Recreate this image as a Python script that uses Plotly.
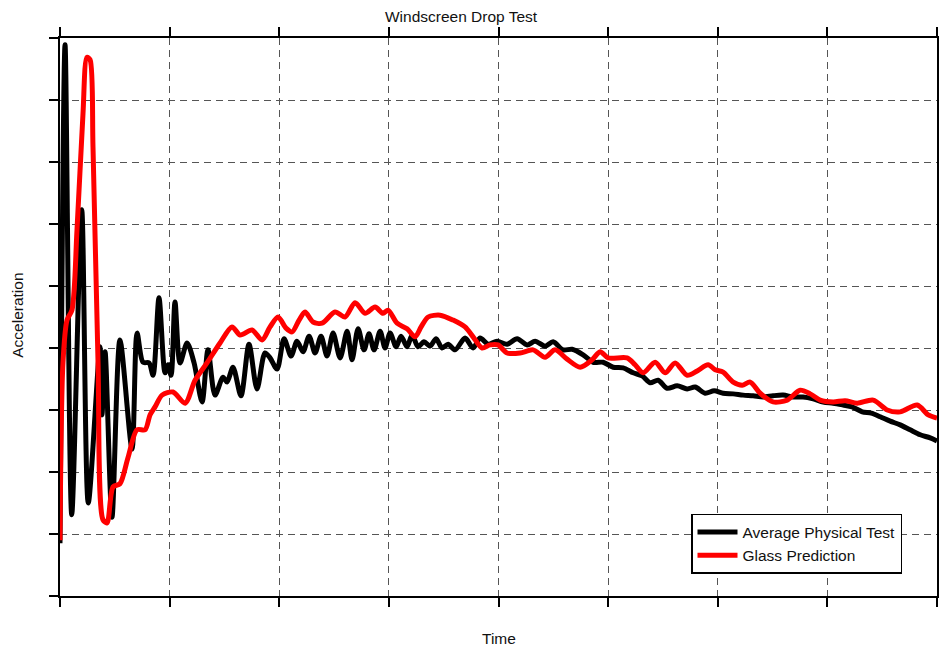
import plotly.graph_objects as go

# Time axis (arbitrary units, 8 grid divisions of 10)
physical_time = [0.0, 0.46, 1.07, 1.98, 2.58, 3.65, 3.83, 4.11, 4.74, 5.47, 6.57, 7.03, 7.57, 8.12, 8.49,
                 9.03, 9.58, 9.85, 10.13, 10.49, 10.95, 11.59, 12.23, 12.96, 13.50, 14.14, 14.87, 15.24,
                 15.78, 16.51, 17.24, 17.97, 18.70, 19.16, 19.80, 20.44, 21.08, 21.62, 22.17, 22.72, 23.27,
                 23.81, 24.36, 24.91, 25.55, 26.19, 26.64, 27.19, 27.74, 28.19, 28.65, 29.20, 29.65, 30.11,
                 30.66, 31.11, 31.66, 32.12, 32.66, 33.21, 33.76, 34.31, 34.85, 35.40, 36.04, 36.95, 37.68,
                 38.32, 39.05, 39.87, 40.78, 41.70, 42.61, 43.34, 44.25, 44.98, 45.89, 46.72, 47.72, 48.63,
                 49.54, 50.46, 51.37, 52.28, 53.10, 53.83, 54.56, 55.38, 56.30, 57.21, 57.94, 58.85, 59.67,
                 60.49, 61.41, 62.32, 63.23, 64.14, 65.05, 65.97, 66.88, 67.79, 68.70, 69.62, 70.53, 71.44,
                 72.26, 73.18, 74.00, 74.82, 75.73, 76.64, 77.55, 78.47, 79.38, 80.0]
physical_accel = [0.85, 8.89, 1.31, 6.23, 1.50, 4.02, 2.92, 3.94, 1.27, 4.13, 2.37, 4.24, 3.77, 3.76, 3.56,
                  4.81, 3.60, 3.73, 3.56, 4.74, 3.76, 4.08, 3.76, 3.13, 3.97, 3.24, 3.53, 3.45,
                  3.69, 3.23, 4.06, 3.34, 3.92, 3.84, 3.66, 4.15, 3.87, 4.11, 3.94, 4.19, 3.92,
                  4.19, 3.87, 4.24, 3.84, 4.27, 3.81, 4.31, 3.97, 4.23, 3.97, 4.27, 4.00, 4.24,
                  4.02, 4.19, 4.02, 4.21, 4.02, 4.10, 4.03, 4.15, 4.00, 4.06, 3.97, 4.16, 4.00,
                  4.16, 4.06, 4.11, 4.06, 4.15, 4.05, 4.11, 4.03, 4.10, 3.97, 3.98, 3.89, 3.77,
                  3.77, 3.69, 3.68, 3.60, 3.55, 3.44, 3.48, 3.35, 3.39, 3.34, 3.37, 3.27, 3.31,
                  3.27, 3.26, 3.24, 3.23, 3.21, 3.23, 3.24, 3.21, 3.21, 3.18, 3.13, 3.11, 3.08,
                  3.05, 2.97, 2.95, 2.89, 2.82, 2.76, 2.68, 2.60, 2.55, 2.50]

glass_time = [0.0, 0.27, 0.64, 1.09, 1.55, 2.10, 2.46, 2.74, 3.01, 3.47, 3.92, 4.29, 4.84, 5.47, 6.20,
              7.03, 7.76, 8.21, 8.67, 9.31, 10.31, 11.41, 12.32, 13.41, 14.60, 15.69, 16.42, 17.52,
              18.43, 19.16, 19.89, 20.62, 21.17, 21.81, 22.35, 23.08, 23.91, 25.09, 26.00, 26.92, 27.83,
              28.74, 29.47, 29.93, 30.75, 31.66, 32.39, 32.94, 33.58, 34.67, 35.86, 36.95, 37.68, 38.50,
              39.23, 39.96, 40.78, 41.97, 43.16, 44.25, 45.16, 46.26, 47.45, 48.54, 49.27, 50.00, 51.73,
              52.46, 53.19, 54.29, 55.20, 56.11, 57.21, 58.12, 59.12, 59.76, 60.49, 61.41, 62.23, 62.96,
              63.87, 65.05, 66.33, 67.52, 68.43, 69.34, 70.53, 71.62, 72.72, 74.18, 75.46, 76.64, 78.19,
              79.20, 80.0]
glass_accel = [0.90, 3.76, 4.45, 4.61, 5.90, 7.79, 8.69, 8.65, 7.24, 3.76, 1.23, 1.18, 1.76, 1.81, 2.23,
               2.68, 2.68, 2.92, 3.05, 3.24, 3.29, 3.11, 3.48, 3.76, 4.08, 4.34, 4.21, 4.29,
               4.13, 4.34, 4.50, 4.32, 4.26, 4.45, 4.58, 4.42, 4.40, 4.58, 4.50, 4.73, 4.56,
               4.66, 4.56, 4.61, 4.40, 4.31, 4.18, 4.34, 4.50, 4.53, 4.45, 4.34, 4.18, 4.00,
               4.05, 4.05, 3.92, 3.92, 3.97, 3.85, 3.97, 3.82, 3.69, 3.81, 3.94, 3.84, 3.84,
               3.73, 3.60, 3.77, 3.60, 3.76, 3.56, 3.63, 3.73, 3.65, 3.61, 3.45, 3.40, 3.45,
               3.27, 3.13, 3.16, 3.32, 3.26, 3.16, 3.13, 3.15, 3.11, 3.16, 3.00, 2.97, 3.08,
               2.92, 2.87]

series_names = ["Average Physical Test", "Glass Prediction"]
series_colors = ["#000000", "#ff0000"]

FONT = "Arial, Liberation Sans, sans-serif"
FS = 15.5

fig = go.Figure()
for name, xs, ys, col in zip(series_names, [physical_time, glass_time], [physical_accel, glass_accel], series_colors):
    fig.add_trace(go.Scatter(x=xs, y=ys, mode="lines", name=name,
                             line=dict(color=col, width=5, shape="spline", smoothing=0.8)))

axis_common = dict(showticklabels=False, ticks="outside", ticklen=9, tickwidth=2, tickcolor="#000",
                   showline=True, linecolor="#000", linewidth=2, automargin=False,
                   showgrid=True, gridcolor="#555555", gridwidth=1, griddash="7px,5px",
                   zeroline=False, fixedrange=True)

fig.update_layout(
    width=939, height=649, autosize=False,
    margin=dict(l=60, r=2, t=38, b=53, autoexpand=False),
    paper_bgcolor="white", plot_bgcolor="white",
    font=dict(family=FONT, size=FS, color="#111"),
    title=dict(text="Windscreen Drop Test", x=0.491, xref="container", xanchor="center",
               y=0.975, yref="container", yanchor="middle", font=dict(size=FS, color="#111")),
    xaxis=dict(range=[0, 80], dtick=10, tick0=0, mirror="ticks", **axis_common),
    yaxis=dict(range=[0, 9], dtick=1, tick0=0, mirror=True, **axis_common),
    showlegend=True,
    legend=dict(x=0.7195, y=0.147, xanchor="left", yanchor="top", bgcolor="white",
                bordercolor="#000", borderwidth=1.5, font=dict(size=FS, color="#111"),
                tracegroupgap=0, itemwidth=40),
    annotations=[
        dict(text="Time", xref="paper", yref="paper", x=0.5, y=-0.0753, xanchor="center",
             yanchor="middle", showarrow=False, font=dict(size=FS, color="#111")),
        dict(text="Acceleration", xref="paper", yref="paper", x=-0.0479, y=0.504, xanchor="center",
             yanchor="middle", textangle=-90, showarrow=False, font=dict(size=FS, color="#111")),
    ],
)

post = ("document.documentElement.style.margin='0';document.body.style.margin='0';"
        "document.body.style.padding='0';document.body.style.overflow='hidden';"
        "document.documentElement.style.overflow='hidden';"
        "var gd=document.getElementById('{plot_id}');"
        "Plotly.relayout(gd,{width:939,height:649});")

fig.write_html("out.html", post_script=post, config={"responsive": False, "displayModeBar": False})
